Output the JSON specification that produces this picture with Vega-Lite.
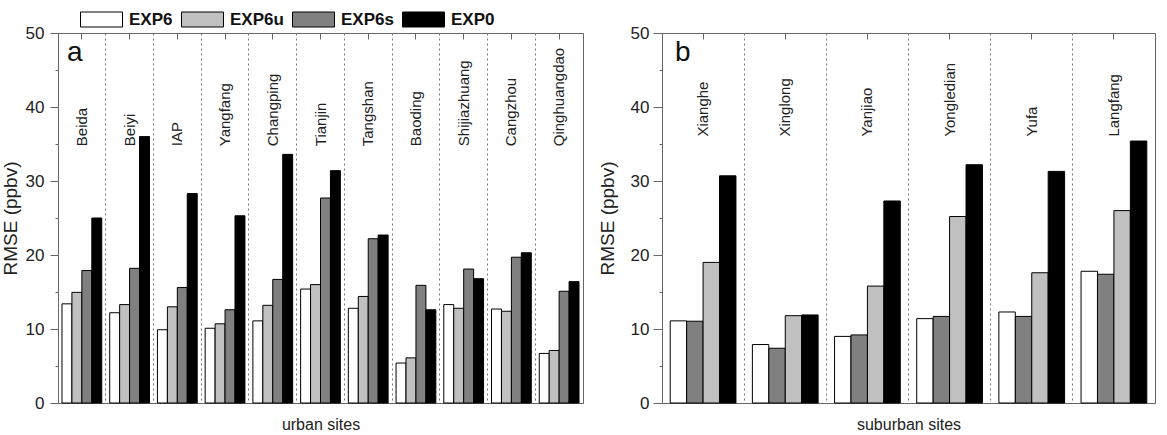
{
  "$schema": "https://vega.github.io/schema/vega-lite/v6.json",
  "autosize": {"type": "pad"},
  "padding": {"left": 0, "top": 4, "right": 0, "bottom": 0},
  "bounds": "flush",
  "spacing": 79,
  "config": {
    "font": "Liberation Sans",
    "view": {"stroke": "#666", "strokeWidth": 1},
    "axis": {"domainColor": "#666", "tickColor": "#666", "labelColor": "#222", "titleColor": "#222", "titleFontWeight": "normal"},
    "legend": {"orient": "none", "direction": "horizontal", "legendX": 22, "legendY": -29, "title": null,
               "symbolType": "M-1,-0.5H1.8V0.5H-1Z", "symbolSize": 900, "symbolStrokeColor": "#000", "symbolStrokeWidth": 1, "symbolOpacity": 1,
               "labelFontSize": 17, "labelFontWeight": "bold", "labelColor": "#111", "labelOffset": 18, "columnPadding": 6}
  },
  "datasets": {
    "urban": [
      {"site": "Beida", "series": "EXP6", "rmse": 13.4}, {"site": "Beida", "series": "EXP6u", "rmse": 14.95}, {"site": "Beida", "series": "EXP6s", "rmse": 17.9}, {"site": "Beida", "series": "EXP0", "rmse": 25.0},
      {"site": "Beiyi", "series": "EXP6", "rmse": 12.2}, {"site": "Beiyi", "series": "EXP6u", "rmse": 13.3}, {"site": "Beiyi", "series": "EXP6s", "rmse": 18.2}, {"site": "Beiyi", "series": "EXP0", "rmse": 36.0},
      {"site": "IAP", "series": "EXP6", "rmse": 9.9}, {"site": "IAP", "series": "EXP6u", "rmse": 13.0}, {"site": "IAP", "series": "EXP6s", "rmse": 15.6}, {"site": "IAP", "series": "EXP0", "rmse": 28.3},
      {"site": "Yangfang", "series": "EXP6", "rmse": 10.1}, {"site": "Yangfang", "series": "EXP6u", "rmse": 10.7}, {"site": "Yangfang", "series": "EXP6s", "rmse": 12.6}, {"site": "Yangfang", "series": "EXP0", "rmse": 25.3},
      {"site": "Changping", "series": "EXP6", "rmse": 11.1}, {"site": "Changping", "series": "EXP6u", "rmse": 13.2}, {"site": "Changping", "series": "EXP6s", "rmse": 16.7}, {"site": "Changping", "series": "EXP0", "rmse": 33.6},
      {"site": "Tianjin", "series": "EXP6", "rmse": 15.4}, {"site": "Tianjin", "series": "EXP6u", "rmse": 16.0}, {"site": "Tianjin", "series": "EXP6s", "rmse": 27.7}, {"site": "Tianjin", "series": "EXP0", "rmse": 31.4},
      {"site": "Tangshan", "series": "EXP6", "rmse": 12.8}, {"site": "Tangshan", "series": "EXP6u", "rmse": 14.4}, {"site": "Tangshan", "series": "EXP6s", "rmse": 22.2}, {"site": "Tangshan", "series": "EXP0", "rmse": 22.7},
      {"site": "Baoding", "series": "EXP6", "rmse": 5.4}, {"site": "Baoding", "series": "EXP6u", "rmse": 6.1}, {"site": "Baoding", "series": "EXP6s", "rmse": 15.9}, {"site": "Baoding", "series": "EXP0", "rmse": 12.6},
      {"site": "Shijiazhuang", "series": "EXP6", "rmse": 13.3}, {"site": "Shijiazhuang", "series": "EXP6u", "rmse": 12.8}, {"site": "Shijiazhuang", "series": "EXP6s", "rmse": 18.1}, {"site": "Shijiazhuang", "series": "EXP0", "rmse": 16.8},
      {"site": "Cangzhou", "series": "EXP6", "rmse": 12.7}, {"site": "Cangzhou", "series": "EXP6u", "rmse": 12.4}, {"site": "Cangzhou", "series": "EXP6s", "rmse": 19.7}, {"site": "Cangzhou", "series": "EXP0", "rmse": 20.3},
      {"site": "Qinghuangdao", "series": "EXP6", "rmse": 6.7}, {"site": "Qinghuangdao", "series": "EXP6u", "rmse": 7.1}, {"site": "Qinghuangdao", "series": "EXP6s", "rmse": 15.1}, {"site": "Qinghuangdao", "series": "EXP0", "rmse": 16.4}
    ],
    "suburban": [
      {"site": "Xianghe", "series": "EXP6", "rmse": 11.1}, {"site": "Xianghe", "series": "EXP6s", "rmse": 11.05}, {"site": "Xianghe", "series": "EXP6u", "rmse": 19.0}, {"site": "Xianghe", "series": "EXP0", "rmse": 30.7},
      {"site": "Xinglong", "series": "EXP6", "rmse": 7.9}, {"site": "Xinglong", "series": "EXP6s", "rmse": 7.4}, {"site": "Xinglong", "series": "EXP6u", "rmse": 11.8}, {"site": "Xinglong", "series": "EXP0", "rmse": 11.9},
      {"site": "Yanjiao", "series": "EXP6", "rmse": 9.0}, {"site": "Yanjiao", "series": "EXP6s", "rmse": 9.2}, {"site": "Yanjiao", "series": "EXP6u", "rmse": 15.8}, {"site": "Yanjiao", "series": "EXP0", "rmse": 27.3},
      {"site": "Yongledian", "series": "EXP6", "rmse": 11.4}, {"site": "Yongledian", "series": "EXP6s", "rmse": 11.7}, {"site": "Yongledian", "series": "EXP6u", "rmse": 25.2}, {"site": "Yongledian", "series": "EXP0", "rmse": 32.2},
      {"site": "Yufa", "series": "EXP6", "rmse": 12.3}, {"site": "Yufa", "series": "EXP6s", "rmse": 11.7}, {"site": "Yufa", "series": "EXP6u", "rmse": 17.6}, {"site": "Yufa", "series": "EXP0", "rmse": 31.3},
      {"site": "Langfang", "series": "EXP6", "rmse": 17.8}, {"site": "Langfang", "series": "EXP6s", "rmse": 17.4}, {"site": "Langfang", "series": "EXP6u", "rmse": 26.0}, {"site": "Langfang", "series": "EXP0", "rmse": 35.4}
    ]
  },
  "resolve": {"scale": {"x": "independent", "xOffset": "independent", "y": "independent", "color": "shared"}},
  "hconcat": [
    {
      "width": 525, "height": 370,
      "data": {"name": "urban"},
      "resolve": {"axis": {"x": "independent", "y": "independent"}},
      "layer": [
        {
          "mark": {"type": "bar", "stroke": "#000", "strokeWidth": 1},
          "encoding": {
            "x": {"field": "site", "type": "nominal", "sort": null, "scale": {"paddingInner": 0, "paddingOuter": 0},
                  "axis": {"orient": "bottom", "title": "urban sites", "titleFontSize": 16, "titlePadding": 13, "labels": false, "ticks": false, "grid": true, "bandPosition": 0, "gridDash": [2, 3], "gridColor": "#777", "gridWidth": 1}},
            "xOffset": {"field": "series", "type": "nominal", "sort": ["EXP6", "EXP6u", "EXP6s", "EXP0"], "scale": {"paddingInner": 0, "paddingOuter": 0.4}},
            "y": {"field": "rmse", "type": "quantitative", "scale": {"domain": [0, 50], "nice": false},
                  "axis": {"values": [0, 10, 20, 30, 40, 50], "tickSize": 8, "labelPadding": 6, "labelFontSize": 17, "title": "RMSE (ppbv)", "titleFontSize": 19, "titlePadding": 5, "grid": false}},
            "color": {"field": "series", "type": "nominal", "sort": ["EXP6", "EXP6u", "EXP6s", "EXP0"],
                      "scale": {"domain": ["EXP6", "EXP6u", "EXP6s", "EXP0"], "range": ["#ffffff", "#c0c0c0", "#808080", "#000000"]},
                      "legend": {"orient": "none", "direction": "horizontal", "legendX": 22, "legendY": -29, "title": null,
                                 "symbolType": "M-1,-0.5H1.8V0.5H-1Z", "symbolSize": 900, "symbolStrokeColor": "#000", "symbolStrokeWidth": 1, "symbolOpacity": 1,
                                 "labelFontSize": 17, "labelFontWeight": "bold", "labelColor": "#111", "labelOffset": 18, "columnPadding": 6}}
          }
        },
        {
          "transform": [{"filter": "datum.series === 'EXP0'"}],
          "mark": {"type": "text", "angle": 270, "align": "left", "baseline": "middle", "fontSize": 15, "color": "#222"},
          "encoding": {
            "x": {"field": "site", "type": "nominal", "sort": null,
                  "axis": {"orient": "top", "title": null, "labels": false, "ticks": true, "tickSize": -6, "domain": false}},
            "y": {"datum": 34.7, "axis": null},
            "text": {"field": "site"}
          }
        },
        {
          "data": {"values": [{"panel": "a"}]},
          "mark": {"type": "text", "align": "left", "baseline": "alphabetic", "fontSize": 28, "dx": 9, "color": "#111"},
          "encoding": {
            "x": {"datum": "Beida", "type": "nominal", "bandPosition": 0, "axis": null},
            "y": {"datum": 46.2, "type": "quantitative",
                  "axis": {"orient": "left", "values": [5, 15, 25, 35, 45], "labels": false, "tickSize": 3, "domain": false, "title": null, "grid": false}},
            "text": {"field": "panel"}
          }
        }
      ]
    },
    {
      "width": 493, "height": 370,
      "data": {"name": "suburban"},
      "resolve": {"axis": {"x": "independent", "y": "independent"}},
      "layer": [
        {
          "mark": {"type": "bar", "stroke": "#000", "strokeWidth": 1},
          "encoding": {
            "x": {"field": "site", "type": "nominal", "sort": null, "scale": {"paddingInner": 0, "paddingOuter": 0},
                  "axis": {"orient": "bottom", "title": "suburban sites", "titleFontSize": 16, "titlePadding": 13, "labels": false, "ticks": false, "grid": true, "bandPosition": 0, "gridDash": [2, 3], "gridColor": "#777", "gridWidth": 1}},
            "xOffset": {"field": "series", "type": "nominal", "sort": ["EXP6", "EXP6s", "EXP6u", "EXP0"], "scale": {"paddingInner": 0, "paddingOuter": 0.5}},
            "y": {"field": "rmse", "type": "quantitative", "scale": {"domain": [0, 50], "nice": false},
                  "axis": {"values": [0, 10, 20, 30, 40, 50], "tickSize": 9, "labelPadding": 4, "labelFontSize": 17, "title": "RMSE (ppbv)", "titleFontSize": 19, "titlePadding": 13, "grid": false}},
            "color": {"field": "series", "type": "nominal", "sort": ["EXP6", "EXP6u", "EXP6s", "EXP0"],
                      "scale": {"domain": ["EXP6", "EXP6u", "EXP6s", "EXP0"], "range": ["#ffffff", "#c0c0c0", "#808080", "#000000"]},
                      "legend": {"orient": "none", "direction": "horizontal", "legendX": 22, "legendY": -29, "title": null,
                                 "symbolType": "M-1,-0.5H1.8V0.5H-1Z", "symbolSize": 900, "symbolStrokeColor": "#000", "symbolStrokeWidth": 1, "symbolOpacity": 1,
                                 "labelFontSize": 17, "labelFontWeight": "bold", "labelColor": "#111", "labelOffset": 18, "columnPadding": 6}}
          }
        },
        {
          "transform": [{"filter": "datum.series === 'EXP0'"}],
          "mark": {"type": "text", "angle": 270, "align": "left", "baseline": "middle", "fontSize": 15, "color": "#222"},
          "encoding": {
            "x": {"field": "site", "type": "nominal", "sort": null,
                  "axis": {"orient": "top", "title": null, "labels": false, "ticks": true, "tickSize": -6, "domain": false}},
            "y": {"datum": 36, "axis": null},
            "text": {"field": "site"}
          }
        },
        {
          "data": {"values": [{"panel": "b"}]},
          "mark": {"type": "text", "align": "left", "baseline": "alphabetic", "fontSize": 28, "dx": 13, "color": "#111"},
          "encoding": {
            "x": {"datum": "Xianghe", "type": "nominal", "bandPosition": 0, "axis": null},
            "y": {"datum": 46.2, "type": "quantitative",
                  "axis": {"orient": "left", "values": [5, 15, 25, 35, 45], "labels": false, "tickSize": 3, "domain": false, "title": null, "grid": false}},
            "text": {"field": "panel"}
          }
        }
      ]
    }
  ]
}
